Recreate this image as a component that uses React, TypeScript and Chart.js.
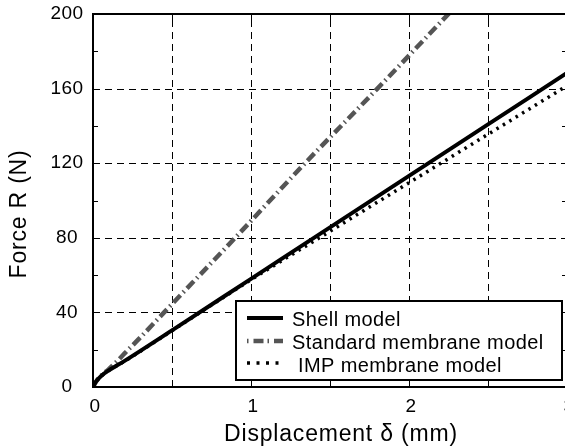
import React, { useEffect, useRef } from "react";
import { Chart, registerables } from "chart.js";

Chart.register(...registerables);

// ---- data ----
const shellX = [0, 0.02, 0.05, 0.1, 0.2, 0.5, 1, 1.5, 2, 2.5, 3];
const shellF = [0, 3.0, 5.8, 8.9, 14.0, 30.4, 58, 85.6, 113.2, 140.8, 168.4];

const stdX = [0, 0.02, 0.05, 0.1, 0.15, 0.2, 0.3, 0.45, 0.9, 1.342, 1.8, 2.25, 2.5];
const stdF = [0, 3.0, 5.9, 9.6, 13.6, 18.0, 26.6, 40, 80, 120, 160, 200, 222];

const impX = [0, 0.02, 0.05, 0.1, 0.2, 0.5, 1, 1.5, 2, 2.5, 3];
const impF = [0, 3.0, 5.8, 8.8, 13.8, 30.2, 57.5, 83.5, 109.5, 135.5, 161.5];

const seriesNames = ["Shell model", "Standard membrane model", " IMP membrane model"];
const xTickLabels = ["0", "1", "2", "3"];
const yTickLabels = ["0", "40", "80", "120", "160", "200"];
const xTitle = "Displacement \u03b4 (mm)";
const yTitle = "Force R (N)";

const FONT = '"Liberation Sans", Arial, Helvetica, sans-serif';

const toPts = (xs: number[], ys: number[]) => xs.map((x, i) => ({ x, y: ys[i] }));

const setSpacing = (ctx: any, v: string) => {
  try {
    ctx.letterSpacing = v;
  } catch (e) {
    /* ignore */
  }
};

const decorPlugin = {
  id: "decor",
  beforeDatasetsDraw(chart: any) {
    const ctx = chart.ctx;
    const { left, right, top, bottom } = chart.chartArea;
    const xs = chart.scales.x;
    const ys = chart.scales.y;
    ctx.save();
    ctx.strokeStyle = "#000";
    ctx.lineWidth = 1;
    ctx.setLineDash([7, 5]);
    for (const t of xs.ticks) {
      if (t.value <= 0 || t.value >= 3) continue;
      const px = Math.round(xs.getPixelForValue(t.value)) + 0.5;
      ctx.beginPath();
      ctx.moveTo(px, bottom);
      ctx.lineTo(px, top);
      ctx.stroke();
    }
    for (const t of ys.ticks) {
      if (t.value <= 0 || t.value >= 200 || t.value % 40 !== 0) continue;
      const py = Math.round(ys.getPixelForValue(t.value)) + 0.5;
      ctx.beginPath();
      ctx.moveTo(left, py);
      ctx.lineTo(right, py);
      ctx.stroke();
    }
    ctx.restore();
  },
  afterDatasetsDraw(chart: any) {
    const ctx = chart.ctx;
    const { left, right, top, bottom } = chart.chartArea;
    const xs = chart.scales.x;
    const ys = chart.scales.y;
    ctx.save();
    ctx.setLineDash([]);
    ctx.strokeStyle = "#000";
    // inward ticks
    ctx.lineWidth = 1;
    for (const t of ys.ticks) {
      const py = Math.round(ys.getPixelForValue(t.value)) + 0.5;
      ctx.beginPath();
      ctx.moveTo(left, py);
      ctx.lineTo(left + 5, py);
      ctx.moveTo(right, py);
      ctx.lineTo(right - 5, py);
      ctx.stroke();
    }
    for (const t of xs.ticks) {
      const px = Math.round(xs.getPixelForValue(t.value)) + 0.5;
      ctx.beginPath();
      ctx.moveTo(px, bottom);
      ctx.lineTo(px, bottom - 6);
      ctx.moveTo(px, top);
      ctx.lineTo(px, top + 6);
      ctx.stroke();
    }
    // frame
    ctx.lineWidth = 2;
    ctx.strokeRect(left, top, right - left, bottom - top);

    // tick labels
    ctx.fillStyle = "#000";
    ctx.font = "19px " + FONT;
    setSpacing(ctx, "0.5px");
    ctx.textAlign = "center";
    ctx.textBaseline = "middle";
    yTickLabels.forEach((lab) => {
      const py = ys.getPixelForValue(Number(lab));
      ctx.fillText(lab, 67, py);
    });
    xTickLabels.forEach((lab) => {
      const px = xs.getPixelForValue(Number(lab));
      ctx.fillText(lab, px + 2, 407);
    });

    // axis titles
    ctx.font = "23px " + FONT;
    setSpacing(ctx, "0.8px");
    ctx.textBaseline = "alphabetic";
    ctx.fillText(xTitle, 341, 441);
    ctx.save();
    ctx.translate(20, 214);
    ctx.rotate(-Math.PI / 2);
    ctx.textBaseline = "middle";
    ctx.fillText(yTitle, 0, 0);
    ctx.restore();

    // legend
    const bx = 236, by = 301, bw = 326, bh = 79;
    ctx.fillStyle = "#fff";
    ctx.fillRect(bx, by, bw, bh);
    ctx.lineWidth = 2;
    ctx.strokeStyle = "#000";
    ctx.strokeRect(bx, by, bw, bh);
    const rowsY = [318, 341, 363];
    const textY = [326, 349, 372];
    chart.data.datasets.forEach((ds: any, i: number) => {
      ctx.save();
      ctx.strokeStyle = ds.borderColor;
      ctx.lineWidth = ds.borderWidth;
      ctx.lineCap = "butt";
      if (i === 1) {
        ctx.setLineDash([1.5, 5, 10, 4]);
      } else if (i === 2) {
        ctx.setLineDash([3, 6.5]);
      } else {
        ctx.setLineDash([]);
      }
      ctx.beginPath();
      ctx.moveTo(247, rowsY[i]);
      ctx.lineTo(283, rowsY[i]);
      ctx.stroke();
      ctx.restore();
      ctx.fillStyle = "#000";
      ctx.font = "20px " + FONT;
      setSpacing(ctx, "0.4px");
      ctx.textAlign = "left";
      ctx.textBaseline = "alphabetic";
      ctx.fillText(ds.label, 292, textY[i]);
    });
    setSpacing(ctx, "0px");
    ctx.restore();
  },
};

export default function App() {
  const ref = useRef<HTMLCanvasElement | null>(null);
  useEffect(() => {
    if (!ref.current) return;
    const chart = new Chart(ref.current, {
      type: "line",
      data: {
        datasets: [
          {
            label: seriesNames[0],
            data: toPts(shellX, shellF),
            borderColor: "#000",
            borderWidth: 4,
            pointRadius: 0,
            cubicInterpolationMode: "monotone",
            fill: false,
          },
          {
            label: seriesNames[1],
            data: toPts(stdX, stdF),
            borderColor: "#555",
            borderWidth: 4.5,
            borderDash: [10, 4, 1.5, 4],
            pointRadius: 0,
            cubicInterpolationMode: "monotone",
            fill: false,
            clip: 0,
          },
          {
            label: seriesNames[2],
            data: toPts(impX, impF),
            borderColor: "#000",
            borderWidth: 3.5,
            borderDash: [2.5, 5],
            pointRadius: 0,
            cubicInterpolationMode: "monotone",
            fill: false,
          },
        ],
      },
      options: {
        responsive: false,
        animation: false,
        devicePixelRatio: 1,
        layout: { padding: { left: 0, top: 14, right: 13, bottom: 0 } },
        plugins: { legend: { display: false }, tooltip: { enabled: false } },
        scales: {
          x: {
            type: "linear",
            min: 0,
            max: 3,
            ticks: { stepSize: 0.5, display: false },
            grid: { display: false },
            border: { display: false },
            afterFit: (s: any) => {
              s.height = 61;
            },
          },
          y: {
            type: "linear",
            min: 0,
            max: 200,
            ticks: { stepSize: 20, display: false },
            grid: { display: false },
            border: { display: false },
            afterFit: (s: any) => {
              s.width = 93;
            },
          },
        },
      },
      plugins: [decorPlugin],
    });
    return () => chart.destroy();
  }, []);
  return (
    <div
      style={{
        position: "fixed",
        left: 0,
        top: 0,
        width: 565,
        height: 448,
        overflow: "hidden",
        background: "#fff",
      }}
    >
      <canvas ref={ref} width={580} height={448} style={{ width: 580, height: 448, display: "block" }} />
    </div>
  );
}
